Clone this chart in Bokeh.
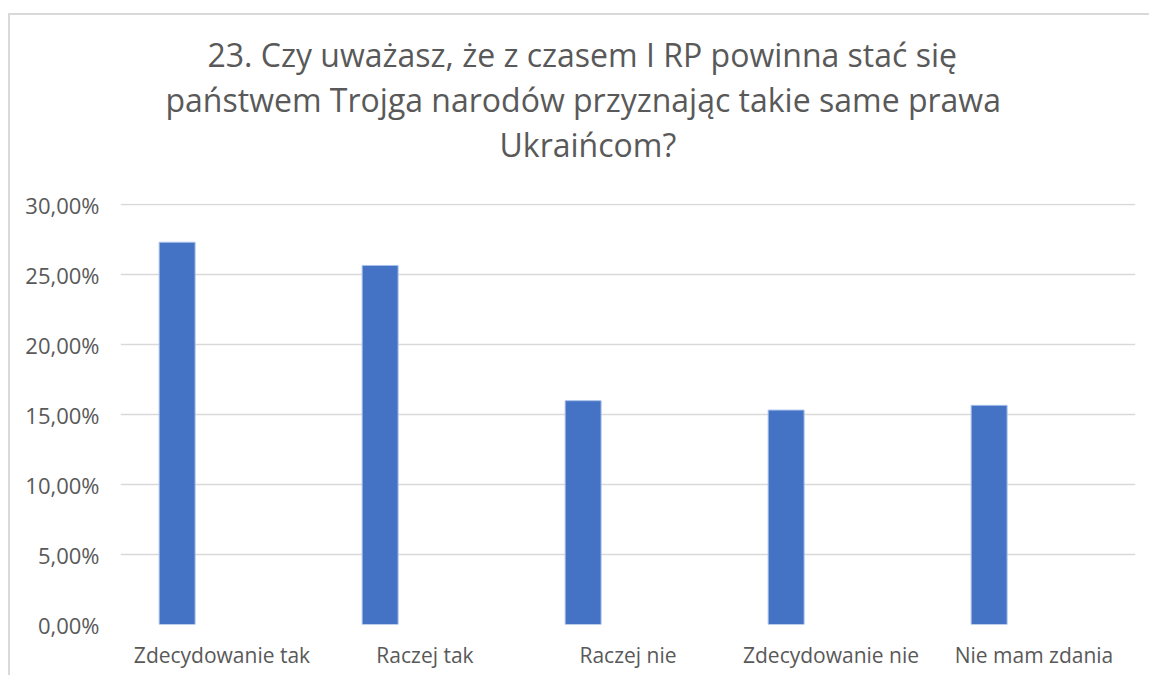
from bokeh.plotting import figure
from bokeh.models import FactorRange, Range1d, FixedTicker, Title
from bokeh.transform import dodge
from bokeh.embed import file_html
from bokeh.resources import INLINE

# ---- data ----
categories = ["Zdecydowanie tak", "Raczej tak", "Raczej nie", "Zdecydowanie nie", "Nie mam zdania"]
values = [27.33, 25.67, 16.00, 15.33, 15.67]          # percent
tick_values = [0, 5, 10, 15, 20, 25, 30]
tick_labels = ["0,00%", "5,00%", "10,00%", "15,00%", "20,00%", "25,00%", "30,00%"]
title_lines = [
    "23. Czy uważasz, że z czasem I RP powinna stać się",
    "państwem Trojga narodów przyznając takie same prawa",
    "Ukraińcom?",
]

TEXT = "#595959"
FONT = "Open Sans"

p = figure(
    x_range=FactorRange(factors=categories),
    y_range=Range1d(0, 30.1),
    width=1141, height=662,
    output_backend="svg", toolbar_location=None,
    min_border_left=110, min_border_right=16,
    min_border_top=188, min_border_bottom=53,
)
p.margin = (15, 0, 0, 10)
p.styles = {"box-shadow": "-2px -2px 0 0 #d9d9d9"}
p.outline_line_color = None
p.background_fill_color = "white"
p.border_fill_color = "white"

p.vbar(x=dodge("cat", -0.221, range=p.x_range), top="val", width=0.177,
       source=dict(cat=categories, val=values),
       fill_color="#4472C4", line_color="#a9c0ea", line_width=1)

# grid
p.xgrid.grid_line_color = None
p.ygrid.grid_line_color = "#d9d9d9"
p.ygrid.grid_line_width = 1.3

# y axis
p.yaxis.ticker = FixedTicker(ticks=tick_values)
p.yaxis.major_label_overrides = {v: s for v, s in zip(tick_values, tick_labels)}
p.yaxis.axis_line_color = None
p.yaxis.major_tick_line_color = None
p.yaxis.minor_tick_line_color = None
p.yaxis.major_label_standoff = 15
p.yaxis.major_label_text_font = FONT
p.yaxis.major_label_text_font_size = "22px"
p.yaxis.major_label_text_color = TEXT

# x axis
p.xaxis.axis_line_color = None
p.xaxis.major_tick_line_color = None
p.xaxis.minor_tick_line_color = None
p.xaxis.major_label_standoff = 10
p.xaxis.major_label_text_font = FONT
p.xaxis.major_label_text_font_size = "21px"
p.xaxis.major_label_text_color = TEXT

# spacer between the title block and the plot area
p.add_layout(Title(text=" ", standoff=0, text_font=FONT, text_font_size="26px"), "above")

# title lines (first added sits nearest the plot)
title_offsets = [87, 45, 379]
for line, off in reversed(list(zip(title_lines, title_offsets))):
    p.add_layout(Title(text=line, align="left", offset=off, standoff=0,
                       text_font=FONT, text_font_size="32px",
                       text_font_style="normal", text_color=TEXT), "above")

open("out.html", "w").write(file_html(p, INLINE))
